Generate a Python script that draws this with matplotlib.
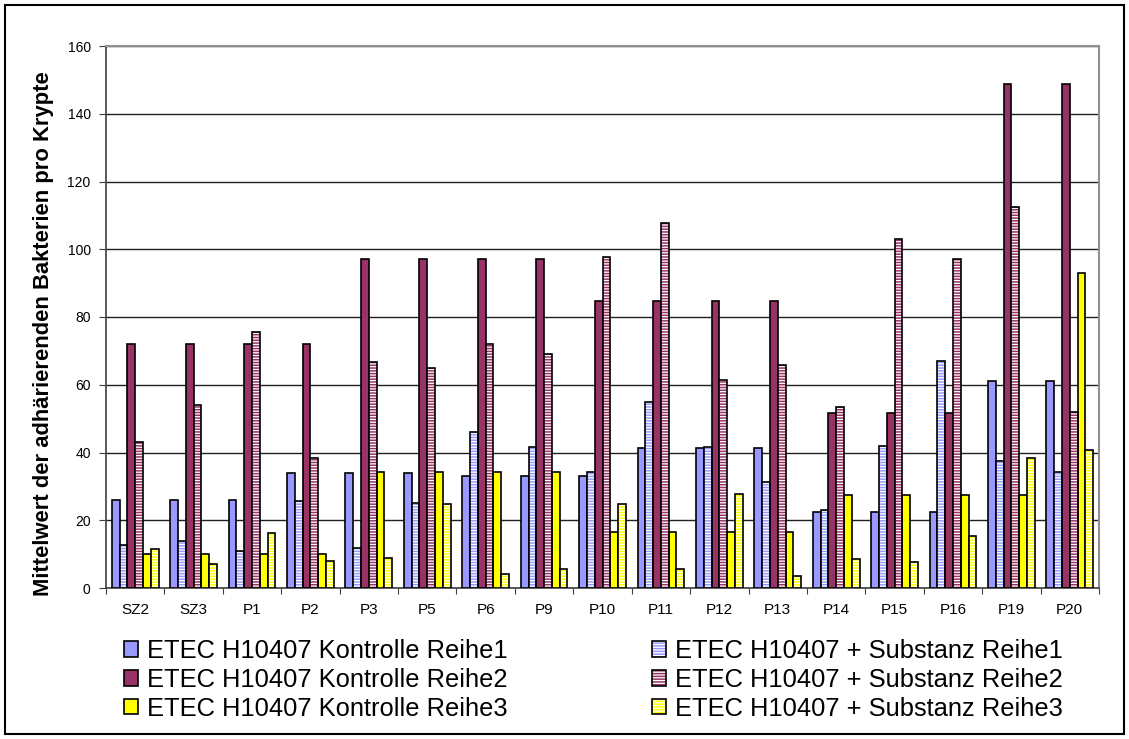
import matplotlib
matplotlib.use("Agg")
import matplotlib.pyplot as plt
import numpy as np
from matplotlib.patches import Patch, Rectangle
from matplotlib.legend_handler import HandlerTuple

plt.rcParams["font.family"] = ["Liberation Sans", "DejaVu Sans"]
plt.rcParams["hatch.linewidth"] = 1.1

proben = ["SZ2", "SZ3", "P1", "P2", "P3", "P5", "P6", "P9", "P10", "P11",
          "P12", "P13", "P14", "P15", "P16", "P19", "P20"]

kontrolle_r1 = [26, 26, 26, 34, 34, 34, 33, 33, 33, 41.3, 41.3, 41.3, 22.4, 22.4, 22.4, 61, 61]
substanz_r1 = [12.6, 13.8, 10.9, 25.6, 11.9, 25, 46.1, 41.5, 34.3, 54.9, 41.6, 31.3, 22.9, 41.9, 67.1, 37.6, 34.2]
kontrolle_r2 = [72, 72, 72, 72, 97, 97, 97, 97, 84.6, 84.6, 84.6, 84.6, 51.7, 51.7, 51.7, 148.9, 148.9]
substanz_r2 = [43, 53.9, 75.5, 38.5, 66.8, 64.9, 72, 69.2, 97.8, 107.7, 61.5, 65.7, 53.5, 103, 97.1, 112.4, 52.1]
kontrolle_r3 = [10, 10, 10, 10, 34.1, 34.1, 34.1, 34.1, 16.5, 16.5, 16.5, 16.5, 27.5, 27.5, 27.5, 27.5, 92.9]
substanz_r3 = [11.4, 7.2, 16.1, 7.9, 8.9, 24.9, 4.2, 5.5, 24.8, 5.5, 27.8, 3.5, 8.7, 7.7, 15.3, 38.3, 40.8]

# (label, values, colour, striped?) in bar order within a group
reihen = [
    ("ETEC H10407 Kontrolle Reihe1", kontrolle_r1, "#9999FF", False),
    ("ETEC H10407 + Substanz Reihe1", substanz_r1, "#9999FF", True),
    ("ETEC H10407 Kontrolle Reihe2", kontrolle_r2, "#993366", False),
    ("ETEC H10407 + Substanz Reihe2", substanz_r2, "#993366", True),
    ("ETEC H10407 Kontrolle Reihe3", kontrolle_r3, "#FFFF00", False),
    ("ETEC H10407 + Substanz Reihe3", substanz_r3, "#FFFF00", True),
]

W, H = 1129, 739
fig = plt.figure(figsize=(W / 100, H / 100), dpi=100)
ax = fig.add_axes([106 / W, 1 - 588 / H, (1099 - 106) / W, (588 - 46) / H])

x = np.arange(len(proben)) + 0.5
bw = 0.8 / 6
handles = {}
for i, (lab, vals, col, striped) in enumerate(reihen):
    pos = x - 0.4 + bw * (i + 0.5)
    if striped:
        ax.bar(pos, vals, bw, color="white", edgecolor=col, hatch="-" * 6, lw=0, zorder=3)
        ax.bar(pos, vals, bw, facecolor="none", edgecolor="black", lw=1.2, zorder=4)
        handles[lab] = (Patch(facecolor="white", edgecolor=col, hatch="-" * 6, lw=0),
                        Patch(facecolor="none", edgecolor="black", lw=1.2))
    else:
        ax.bar(pos, vals, bw, color=col, edgecolor="black", lw=1.2, zorder=3)
        handles[lab] = Patch(facecolor=col, edgecolor="black", lw=1.2)

ax.set_ylim(0, 160)
ax.set_yticks(np.arange(0, 161, 20))
ax.yaxis.grid(True, color="#202020", lw=1.0, zorder=0)
ax.set_xlim(0, len(proben))
ax.set_xticks(np.arange(0, len(proben) + 1))
ax.set_xticklabels([])
ax.set_xticks(x, minor=True)
ax.set_xticklabels(proben, minor=True, fontsize=11)
ax.tick_params(axis="x", which="minor", length=0, pad=10.5)
ax.tick_params(axis="x", which="major", length=4, color="#404040")
ax.tick_params(axis="y", length=5, labelsize=10, color="#404040", pad=6)
for s in ("top", "right"):
    ax.spines[s].set_color("#909090")
    ax.spines[s].set_linewidth(1.5)
for s in ("left", "bottom"):
    ax.spines[s].set_color("#404040")
    ax.spines[s].set_linewidth(1.2)

fig.text(44 / W, 1 - 333.5 / H, "Mittelwert der adhärierenden Bakterien pro Krypte",
         rotation=90, ha="center", va="center", fontsize=15.8, fontweight="bold")

links = [r[0] for r in reihen[0::2]]
rechts = [r[0] for r in reihen[1::2]]
for names, x0 in ((links, 124), (rechts, 652)):
    leg = fig.legend([handles[n] for n in names], names,
                     loc="upper left", bbox_to_anchor=(x0 / W, 1 - 639 / H),
                     frameon=False, fontsize=18.4, handlelength=0.55, handleheight=0.55,
                     handletextpad=0.35, labelspacing=0.19, borderpad=0, borderaxespad=0,
                     handler_map={tuple: HandlerTuple(ndivide=1, pad=0)})

fig.patches.append(Rectangle((5 / W, 5 / H), 1 - 10 / W, 1 - 10 / H, transform=fig.transFigure,
                             fill=False, edgecolor="black", lw=1.5))

fig.savefig("out.png", dpi=100)
